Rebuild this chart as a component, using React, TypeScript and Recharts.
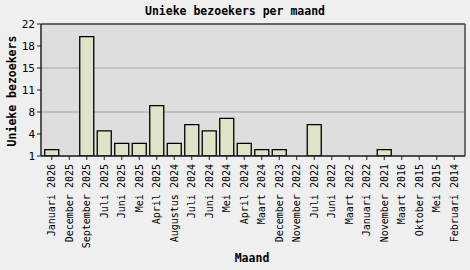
import React from 'react'
import { BarChart, Bar, XAxis, YAxis, CartesianGrid, ReferenceLine } from 'recharts'

// maanden (nieuwste eerst) en aantal unieke bezoekers
const maanden = [
  'Januari 2026', 'December 2025', 'September 2025', 'Juli 2025', 'Juni 2025', 'Mei 2025',
  'April 2025', 'Augustus 2024', 'Juli 2024', 'Juni 2024', 'Mei 2024', 'April 2024',
  'Maart 2024', 'December 2023', 'November 2022', 'Juli 2022', 'Juni 2022', 'Maart 2022',
  'Januari 2022', 'November 2021', 'Maart 2016', 'Oktober 2015', 'Mei 2015', 'Februari 2014',
]
const bezoekers = [2, 1, 20, 5, 3, 3, 9, 3, 6, 5, 7, 3, 2, 2, 1, 6, 1, 1, 1, 2, 1, 1, 1, 1]
const yTicks = [1, 4.5, 8, 11.5, 15, 18.5, 22]

const data = maanden.map((maand, i) => ({ maand, bezoekers: bezoekers[i] }))

const FONT = '"DejaVu Sans Mono", monospace'

const MaandTick = (props: any) => {
  const { x, y, payload } = props
  return (
    <text
      x={x}
      y={y}
      transform={`rotate(-90, ${x}, ${y})`}
      dx={-2}
      dy={3.5}
      textAnchor="end"
      fontFamily={FONT}
      fontSize={10}
      fill="#000"
    >
      {payload.value}
    </text>
  )
}

export default function App() {
  return (
    <div
      style={{
        position: 'fixed',
        left: 0,
        top: 0,
        width: 470,
        height: 270,
        background: '#efefef',
        fontFamily: FONT,
      }}
    >
      <div
        style={{
          position: 'absolute',
          top: 4,
          width: 470,
          textAlign: 'center',
          fontWeight: 'bold',
          fontSize: 11.5,
        }}
      >
        Unieke bezoekers per maand
      </div>
      <div
        style={{
          position: 'absolute',
          top: 251,
          width: 470,
          paddingLeft: 34,
          boxSizing: 'border-box',
          textAlign: 'center',
          fontWeight: 'bold',
          fontSize: 11.5,
        }}
      >
        Maand
      </div>
      <div
        style={{
          position: 'absolute',
          left: 12,
          top: 91,
          transform: 'translate(-50%, -50%) rotate(-90deg)',
          whiteSpace: 'nowrap',
          fontWeight: 'bold',
          fontSize: 11.5,
        }}
      >
        Unieke bezoekers
      </div>
      <BarChart
        width={470}
        height={270}
        data={data}
        margin={{ top: 24, right: 0, bottom: 0, left: 0 }}
        barCategoryGap="10%"
        style={{ position: 'absolute', left: 0, top: 0 }}
      >
        <CartesianGrid vertical={false} fill="#dedede" stroke="#b8b8b8" strokeWidth={1.5} />
        <XAxis
          dataKey="maand"
          interval={0}
          height={114}
          padding={{ left: 2, right: 2 }}
          tick={<MaandTick />}
          tickSize={4}
          tickLine={{ stroke: '#222' }}
          axisLine={{ stroke: '#222', strokeWidth: 1.5 }}
        />
        <YAxis
          domain={[1, 22]}
          ticks={yTicks}
          allowDataOverflow
          width={41}
          tickSize={4}
          tickFormatter={(v: number) => String(Math.floor(v))}
          tick={{ fontFamily: FONT, fontSize: 11, fill: '#000' }}
          tickLine={{ stroke: '#222' }}
          axisLine={{ stroke: '#222', strokeWidth: 1.5 }}
        />
        <YAxis
          yAxisId="rand"
          orientation="right"
          width={5}
          tick={false}
          tickLine={false}
          axisLine={{ stroke: '#444', strokeWidth: 1.5 }}
        />
        <ReferenceLine y={22} stroke="#444" strokeWidth={1.5} />
        <Bar
          dataKey="bezoekers"
          fill="#dfe3c8"
          stroke="#000"
          strokeWidth={1.3}
          isAnimationActive={false}
        />
      </BarChart>
    </div>
  )
}
